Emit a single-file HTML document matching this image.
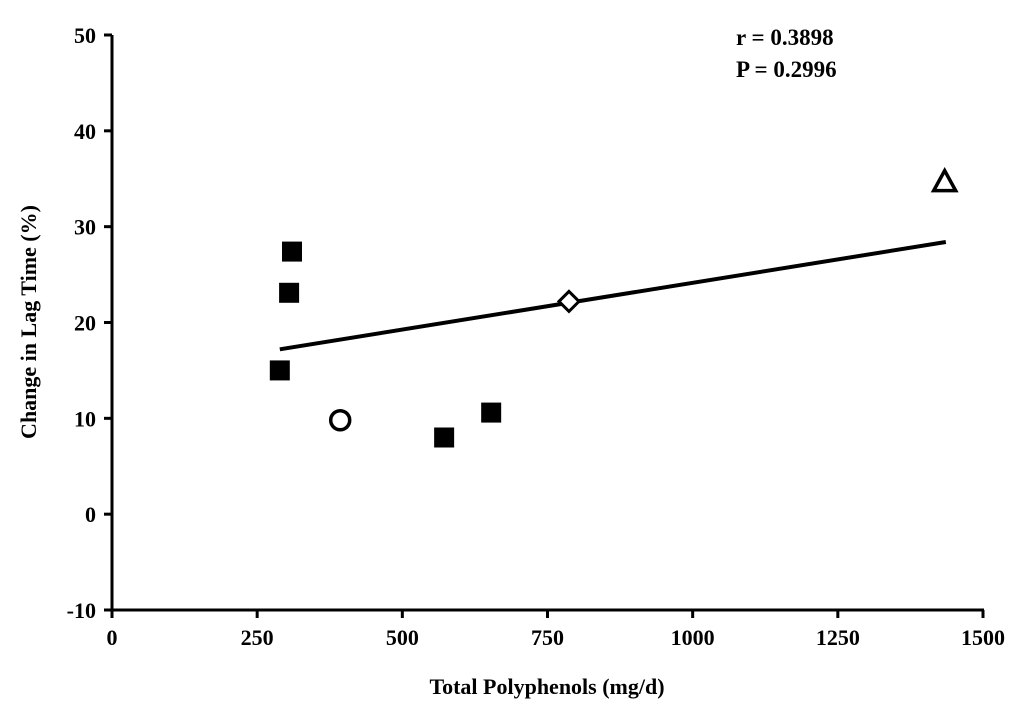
<!DOCTYPE html>
<html><head><meta charset="utf-8"><style>
body{margin:0;background:#fff;}
text{font-family:"Liberation Serif",serif;font-weight:bold;fill:#000;}
</style></head><body>
<svg id="chart" width="1024" height="710" xmlns="http://www.w3.org/2000/svg"></svg>
<script>
const xTicks=[0,250,500,750,1000,1250,1500];
const yTicks=[-10,0,10,20,30,40,50];
const squareX=[310,305,289,572,653];
const squareY=[27.4,23.1,15.0,8.0,10.6];
const circleX=[393];const circleY=[9.8];
const diamondX=[787];const diamondY=[22.2];
const triangleX=[1434];const triangleY=[34.7];
const fitX=[289,1436];const fitY=[17.2,28.4];
const stats=["r = 0.3898","P = 0.2996"];

const svg=document.getElementById('chart');
const NS='http://www.w3.org/2000/svg';
const X0=112,X1=983,Y0=610,Y1=35;
const sx=v=>X0+(v-0)/1500*(X1-X0);
const sy=v=>Y0-(v+10)/60*(Y0-Y1);
function el(t,a,p){const e=document.createElementNS(NS,t);for(const k in a)e.setAttribute(k,a[k]);(p||svg).appendChild(e);return e;}
let e;
e=el('line',{x1:X0,y1:Y1,x2:X0,y2:Y0+1.5,stroke:'#000','stroke-width':3});


e=el('line',{x1:X0-1.5,y1:Y0,x2:X1+1,y2:Y0,stroke:'#000','stroke-width':3});


xTicks.forEach(v=>{
 el('line',{x1:sx(v),y1:Y0,x2:sx(v),y2:Y0+8,stroke:'#000','stroke-width':3});
 e=el('text',{x:sx(v),y:Y0+35,'text-anchor':'middle','font-size':22});e.textContent=v;
 
 
});
yTicks.forEach(v=>{
 el('line',{x1:X0-8,y1:sy(v),x2:X0,y2:sy(v),stroke:'#000','stroke-width':3});
 e=el('text',{x:X0-16,y:sy(v)+8,'text-anchor':'end','font-size':22});e.textContent=v;
 
 
});
e=el('text',{x:547,y:694,'text-anchor':'middle','font-size':22});e.textContent='Total Polyphenols (mg/d)';


e=el('text',{x:0,y:0,'text-anchor':'middle','font-size':22,transform:'translate(36,322) rotate(-90)'});e.textContent='Change in Lag Time (%)';


e=el('line',{x1:sx(fitX[0]),y1:sy(fitY[0]),x2:sx(fitX[1]),y2:sy(fitY[1]),stroke:'#000','stroke-width':4});


squareX.forEach((v,i)=>{
 e=el('rect',{x:sx(v)-10,y:sy(squareY[i])-10,width:20,height:20,fill:'#000'});
 
 
});
circleX.forEach((v,i)=>{
 e=el('circle',{cx:sx(v),cy:sy(circleY[i]),r:9.5,fill:'#fff',stroke:'#000','stroke-width':3.5});
 
 
});
diamondX.forEach((v,i)=>{
 const x=sx(v),y=sy(diamondY[i]);
 e=el('polygon',{points:`${x},${y-10} ${x+10},${y} ${x},${y+10} ${x-10},${y}`,fill:'#fff',stroke:'#000','stroke-width':3});
 
 
});
triangleX.forEach((v,i)=>{
 const x=sx(v),y=sy(triangleY[i]);
 e=el('polygon',{points:`${x},${y-11} ${x+11},${y+9} ${x-11},${y+9}`,fill:'#fff',stroke:'#000','stroke-width':3.5});
 
 
});
stats.forEach((s,i)=>{
 e=el('text',{x:736,y:45+i*32,'font-size':23});e.textContent=s;
 
 
});
</script>
</body></html>
